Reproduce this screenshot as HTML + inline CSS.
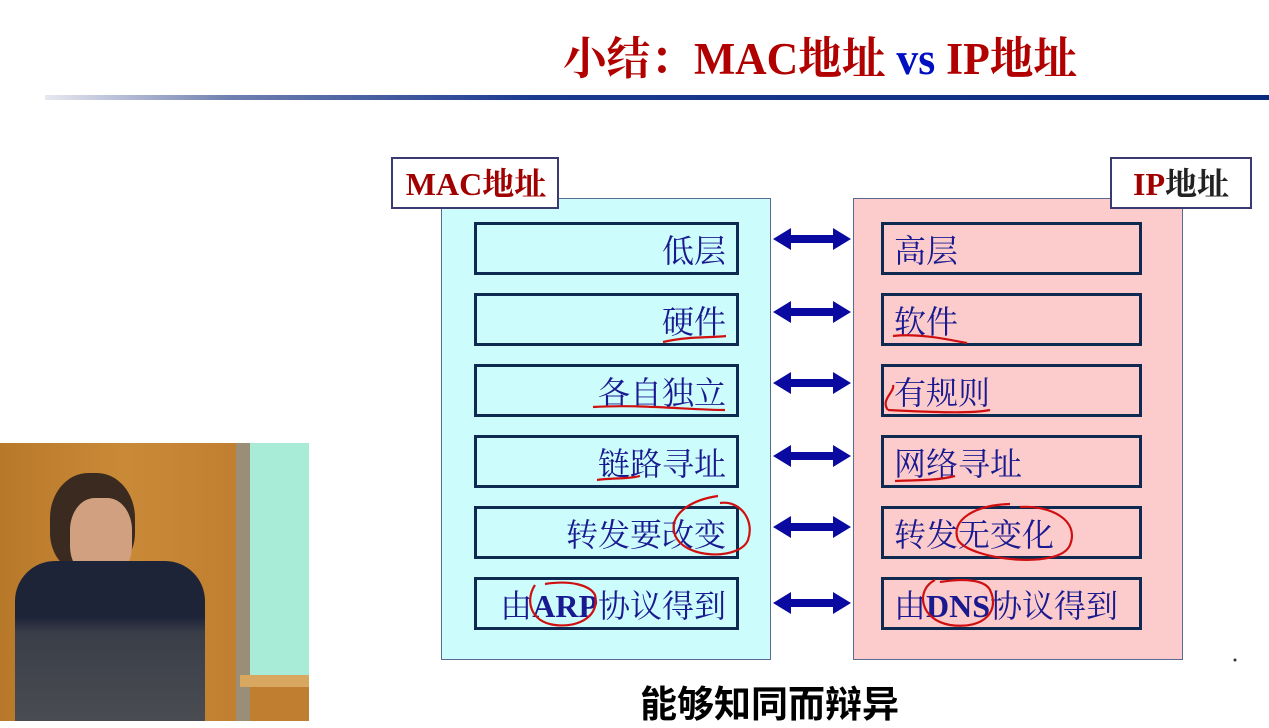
<!DOCTYPE html>
<html><head><meta charset="utf-8"><style>
body{margin:0;width:1269px;height:721px;background:#fff;position:relative;overflow:hidden;font-family:"Liberation Serif","Noto Serif CJK SC",serif}
.a{position:absolute}
.title{left:563px;top:22px;font-size:45px;font-weight:bold;color:#b00000;white-space:nowrap;transform:scaleX(0.97);transform-origin:left}
.rule{left:45px;top:95px;width:1224px;height:5px;background:linear-gradient(90deg,#e8e8f0,#7080b0 15%,#1a3a90 40%,#0a2a80)}
.panel{top:198px;width:328px;height:460px;border:1.5px solid #5a6a90}
.lab{top:157px;height:48px;border:2px solid #3a3a70;background:#fff;font-size:32px;font-weight:bold;color:#a00000;line-height:50px;white-space:nowrap}
.box{width:259px;height:47px;border:3px solid #0e2a50;font-size:32px;color:#1a1a90;line-height:52px;white-space:nowrap}
.l{left:474px;text-align:right}
.l span{margin-right:10px}
.r{left:881px;padding-left:10px;width:245px}
b{font-family:"Liberation Serif",serif;font-weight:bold}
</style></head><body>
<div class="a title">小结：MAC地址 <span style="color:#0010c0">vs</span> IP地址</div>
<div class="a rule"></div>
<div class="a panel" style="left:441px;background:#ccfcfc"></div>
<div class="a panel" style="left:853px;background:#fccccc"></div>
<div class="a lab" style="left:391px;width:162px;padding-left:2px;text-align:center">MAC地址</div>
<div class="a lab" style="left:1110px;width:138px;text-align:center">IP<span style="color:#222">地址</span></div>

<div class="a box l" style="top:222px"><span>低层</span></div>
<div class="a box l" style="top:293px"><span>硬件</span></div>
<div class="a box l" style="top:364px"><span>各自独立</span></div>
<div class="a box l" style="top:435px"><span>链路寻址</span></div>
<div class="a box l" style="top:506px"><span>转发要改变</span></div>
<div class="a box l" style="top:577px"><span>由<b>ARP</b>协议得到</span></div>

<div class="a box r" style="top:222px">高层</div>
<div class="a box r" style="top:293px">软件</div>
<div class="a box r" style="top:364px">有规则</div>
<div class="a box r" style="top:435px">网络寻址</div>
<div class="a box r" style="top:506px">转发无变化</div>
<div class="a box r" style="top:577px">由<b>DNS</b>协议得到</div>

<svg class="a" style="left:0;top:0" width="1269" height="721">
<defs><g id="ar"><polygon points="773,0 791,-11 791,-4 833,-4 833,-11 851,0 833,11 833,4 791,4 791,11" fill="#0a0aa0"/></g></defs>
<use href="#ar" y="239"/><use href="#ar" y="312"/><use href="#ar" y="383"/><use href="#ar" y="456"/><use href="#ar" y="527"/><use href="#ar" y="603"/>
<g fill="none" stroke="#d01010" stroke-width="2.2">
<path d="M663,342 C690,336 710,338 726,336"/>
<path d="M893,336 C920,333 950,340 967,343"/>
<path d="M593,407 C640,404 690,410 725,410"/>
<path d="M888,410 C880,400 895,392 893,385 M888,410 C930,412 970,414 990,410"/>
<path d="M597,480 C610,478 630,479 640,476"/>
<path d="M895,481 C915,480 935,481 955,476"/>
<path d="M718,496 C690,500 668,515 675,535 C685,560 740,560 748,540 C755,520 740,500 720,503"/>
<path d="M1010,504 C975,505 950,520 958,540 C970,560 1060,570 1070,545 C1080,520 1050,505 1020,507"/>
<path d="M535,585 C525,600 530,622 555,625 C580,628 600,615 595,595 C590,585 570,580 545,584"/>
<path d="M935,580 C915,590 920,620 950,625 C985,630 1000,610 990,590 C985,580 965,578 940,582"/>
</g>
<circle cx="1235" cy="660" r="1.5" fill="#333"/>
</svg>

<div class="a" style="left:0;top:443px;width:309px;height:278px;background:linear-gradient(90deg,#b8782a,#c98a38 40%,#c07f30 78%)">
 <div class="a" style="left:236px;top:0;width:14px;height:278px;background:#9a8e78"></div>
 <div class="a" style="left:250px;top:0;width:59px;height:232px;background:#a8ecd8"></div>
 <div class="a" style="left:240px;top:232px;width:69px;height:12px;background:#d8a860"></div>
 <div class="a" style="left:50px;top:30px;width:85px;height:100px;border-radius:45% 45% 40% 40%;background:#3a2a20"></div>
 <div class="a" style="left:70px;top:55px;width:62px;height:80px;border-radius:40%;background:#d0a080"></div>
 <div class="a" style="left:15px;top:118px;width:190px;height:160px;border-radius:40px 40px 0 0;background:linear-gradient(#1e2438 0,#1e2438 35%,#3a3e48 45%,#4a4c52)"></div>
</div>
<div class="a" style="left:640px;top:674px;font-family:'Liberation Sans','Noto Sans CJK SC',sans-serif;font-size:37px;font-weight:bold;color:#000;white-space:nowrap">能够知同而辩异</div>
</body></html>
